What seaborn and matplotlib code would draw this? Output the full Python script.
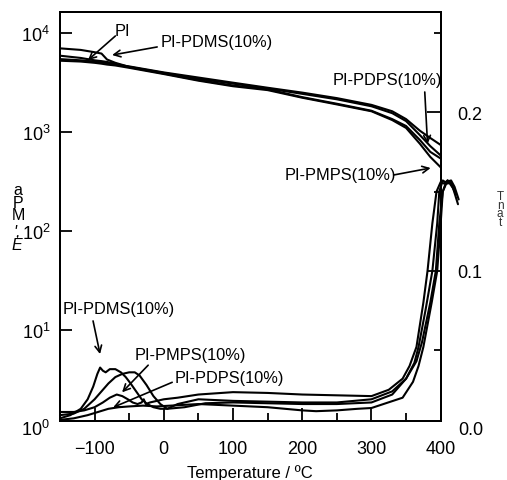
import numpy as np
import pandas as pd
import matplotlib
matplotlib.use("Agg")
import matplotlib.pyplot as plt
import seaborn as sns
from matplotlib.ticker import MultipleLocator, NullLocator, LogLocator

# storage modulus E' (MPa) vs temperature
T_E = [-150, -120, -100, -90, -82, -70, -50, 0, 50, 100, 150, 200, 250, 300, 330, 350, 370, 385, 400]
E_PI = [5450, 5300, 5150, 5050, 4950, 4800, 4600, 4000, 3550, 3150, 2800, 2500, 2200, 1880, 1620, 1350, 1030, 870, 740]
E_PDMS = [7000, 6750, 6400, 6200, 5400, 5000, 4550, 3950, 3450, 3080, 2750, 2430, 2140, 1820, 1550, 1290, 930, 720, 580]
E_PDPS = [5900, 5600, 5300, 5200, 5100, 4900, 4520, 3900, 3350, 2950, 2700, 2250, 1930, 1640, 1350, 1150, 830, 630, 540]
E_PMPS = [5250, 5150, 5000, 4900, 4800, 4700, 4450, 3850, 3300, 2900, 2650, 2220, 1900, 1620, 1320, 1100, 760, 560, 440]

# tan delta vs temperature
T_tan_pdms = [-150, -135, -120, -110, -102, -96, -92, -88, -84, -78, -70, -62, -55, -48, -40, -32, -24, -15, -5,
              5, 20, 50, 100, 150, 200, 250, 300, 330, 350, 365, 373, 385, 393, 398, 403, 410, 415, 420]
tan_pdms = [0.007, 0.009, 0.013, 0.019, 0.027, 0.035, 0.039, 0.037, 0.036, 0.038, 0.038, 0.036, 0.033, 0.029, 0.024,
            0.019, 0.016, 0.014, 0.013, 0.013, 0.016, 0.019, 0.018, 0.0175, 0.017, 0.017, 0.019, 0.024, 0.032,
            0.043, 0.055, 0.080, 0.100, 0.130, 0.150, 0.157, 0.155, 0.150]

T_tan_pi = [-150, -130, -115, -100, -90, -80, -70, -60, -50, -42, -35, -25, -15, -5, 5, 30, 60, 100, 150, 200,
            250, 300, 330, 350, 362, 368, 378, 388, 395, 398, 403, 410, 415, 422]
tan_pi = [0.009, 0.010, 0.013, 0.019, 0.024, 0.029, 0.033, 0.035, 0.036, 0.036, 0.034, 0.028, 0.021, 0.016, 0.013,
          0.014, 0.0165, 0.017, 0.0165, 0.016, 0.016, 0.017, 0.022, 0.032, 0.042, 0.052, 0.075, 0.100, 0.130,
          0.150, 0.157, 0.155, 0.156, 0.148]

T_tan_pmps = [-150, -130, -115, -100, -88, -78, -68, -60, -52, -45, -38, -32, -29, -26, -20, -10, 0, 20, 50, 100,
              150, 200, 250, 300, 325, 345, 355, 365, 375, 381, 388, 394, 400, 405, 410, 418, 425]
tan_pmps = [0.011, 0.011, 0.012, 0.014, 0.017, 0.020, 0.022, 0.021, 0.019, 0.017, 0.016, 0.017, 0.019, 0.016,
            0.017, 0.018, 0.019, 0.020, 0.022, 0.0235, 0.023, 0.022, 0.0215, 0.021, 0.025, 0.032, 0.040, 0.052,
            0.080, 0.100, 0.130, 0.150, 0.156, 0.155, 0.157, 0.152, 0.142]

T_tan_pdps = [-150, -130, -110, -95, -80, -65, -50, -30, -10, 10, 50, 100, 150, 200, 220, 250, 280, 300, 345, 360,
              368, 375, 387, 395, 400, 403, 408, 415, 420, 426]
tan_pdps = [0.006, 0.007, 0.009, 0.011, 0.013, 0.014, 0.0145, 0.015, 0.0145, 0.015, 0.016, 0.015, 0.014, 0.012,
            0.0115, 0.012, 0.013, 0.0135, 0.020, 0.030, 0.040, 0.052, 0.080, 0.100, 0.130, 0.150, 0.156, 0.157,
            0.153, 0.145]

samples = ["PI", "PI-PDMS(10%)", "PI-PDPS(10%)", "PI-PMPS(10%)"]

df_E = pd.concat([
    pd.DataFrame({"T": T_E, "val": E_PI, "sample": samples[0]}),
    pd.DataFrame({"T": T_E, "val": E_PDMS, "sample": samples[1]}),
    pd.DataFrame({"T": T_E, "val": E_PDPS, "sample": samples[2]}),
    pd.DataFrame({"T": T_E, "val": E_PMPS, "sample": samples[3]}),
])
df_tan = pd.concat([
    pd.DataFrame({"T": T_tan_pi, "val": tan_pi, "sample": samples[0]}),
    pd.DataFrame({"T": T_tan_pdms, "val": tan_pdms, "sample": samples[1]}),
    pd.DataFrame({"T": T_tan_pdps, "val": tan_pdps, "sample": samples[2]}),
    pd.DataFrame({"T": T_tan_pmps, "val": tan_pmps, "sample": samples[3]}),
])

sns.set_theme(style="ticks")
plt.rcParams["font.family"] = ["Liberation Sans", "DejaVu Sans"]
plt.rcParams["axes.linewidth"] = 1.4
for key in ["text.color", "axes.labelcolor", "xtick.color", "ytick.color", "axes.edgecolor"]:
    plt.rcParams[key] = "black"

fig = plt.figure(figsize=(5.07, 4.81), dpi=100)
ax = fig.add_axes([0.1183, 0.1233, 0.7509, 0.849])
ax2 = ax.twinx()

pal = {s: "black" for s in samples}
sns.lineplot(data=df_E, x="T", y="val", hue="sample", palette=pal, legend=False,
             lw=1.5, ax=ax, estimator=None, sort=False)
sns.lineplot(data=df_tan, x="T", y="val", hue="sample", palette=pal, legend=False,
             lw=1.5, ax=ax2, estimator=None, sort=False)
for line in ax2.lines:
    line.set_clip_on(False)

ax.set_yscale("log")
ax.set_xlim(-150, 400)
ax.set_ylim(10 ** 0.084, 10 ** 4.209)
ax2.set_ylim(0.0055, 0.263)

ax.xaxis.set_major_locator(MultipleLocator(100))
ax.xaxis.set_minor_locator(MultipleLocator(50))
ax.yaxis.set_major_locator(LogLocator(base=10, numticks=10))
ax.yaxis.set_minor_locator(NullLocator())
ax2.yaxis.set_major_locator(MultipleLocator(0.1))
ax2.yaxis.set_minor_locator(MultipleLocator(0.05))
ax2.yaxis.set_major_formatter(plt.FormatStrFormatter("%.1f"))

tfs = 13
ax.tick_params(axis="x", which="major", direction="in", length=9.5, width=1.3, labelsize=tfs, pad=14, top=False)
ax.tick_params(axis="x", which="minor", direction="in", length=5.8, width=1.3, top=False)
ax.tick_params(axis="y", which="major", direction="in", length=8.5, width=1.3, labelsize=tfs, pad=7, right=False)
ax2.tick_params(axis="y", which="major", direction="in", length=10, width=1.3, labelsize=tfs, pad=12)
ax2.tick_params(axis="y", which="minor", direction="in", length=5, width=1.3)

# the zero labels sit just below the frame
ax.text(-0.026, 1, r"$\mathdefault{10^{0}}$", transform=ax.get_yaxis_transform(),
        ha="right", va="center", fontsize=tfs, clip_on=False)
ax2.text(1.045, 0.0, "0.0", transform=ax2.get_yaxis_transform(),
         ha="left", va="center", fontsize=tfs, clip_on=False)

ax.set_xlabel("Temperature / ºC", fontsize=12, labelpad=5)
ax.set_ylabel("")
ax2.set_ylabel("")

# stacked axis labels
fig.text(18 / 507, 1 - 203 / 481, "a\nP\nM", ha="center", va="center", fontsize=11.5, linespacing=0.8)
fig.text(17 / 507, 1 - 239 / 481, "',\nE", ha="center", va="center", fontsize=11.5, linespacing=0.9, style="italic")
fig.text(500 / 507, 1 - 210 / 481, "T\nn\na\nt", ha="center", va="center", fontsize=8.5, linespacing=0.6,
         color="#333333")

arrow = dict(arrowstyle="->", color="black", lw=1.2, shrinkA=0, shrinkB=0)
fs = 11.8

ax.text(-60, 10720, "PI", ha="center", va="center", fontsize=fs)
ax.annotate("", xy=(-109.5, 5330), xytext=(-70, 9330), arrowprops=arrow)
ax.text(77, 8300, "PI-PDMS(10%)", ha="center", va="center", fontsize=fs)
ax.annotate("", xy=(-74.7, 5990), xytext=(-9.6, 7230), arrowprops=arrow)
ax.text(323, 3430, "PI-PDPS(10%)", ha="center", va="center", fontsize=fs)
ax.annotate("", xy=(381, 757), xytext=(377, 2535), arrowprops=arrow)
ax.text(255, 368, "PI-PMPS(10%)", ha="center", va="center", fontsize=fs)
ax.annotate("", xy=(385.5, 433), xytext=(332, 368), arrowprops=arrow)

ax2.text(-64.6, 0.076, "PI-PDMS(10%)", ha="center", va="center", fontsize=fs)
ax2.annotate("", xy=(-92.1, 0.0475), xytext=(-102.2, 0.0684), arrowprops=arrow)
ax2.text(38, 0.0475, "PI-PMPS(10%)", ha="center", va="center", fontsize=fs)
ax2.annotate("", xy=(-60.3, 0.0234), xytext=(-22.6, 0.0405), arrowprops=arrow)
ax2.text(94.6, 0.0329, "PI-PDPS(10%)", ha="center", va="center", fontsize=fs)
ax2.annotate("", xy=(-73.3, 0.0139), xytext=(12.1, 0.0297), arrowprops=arrow)

fig.savefig("out.png", dpi=100)
